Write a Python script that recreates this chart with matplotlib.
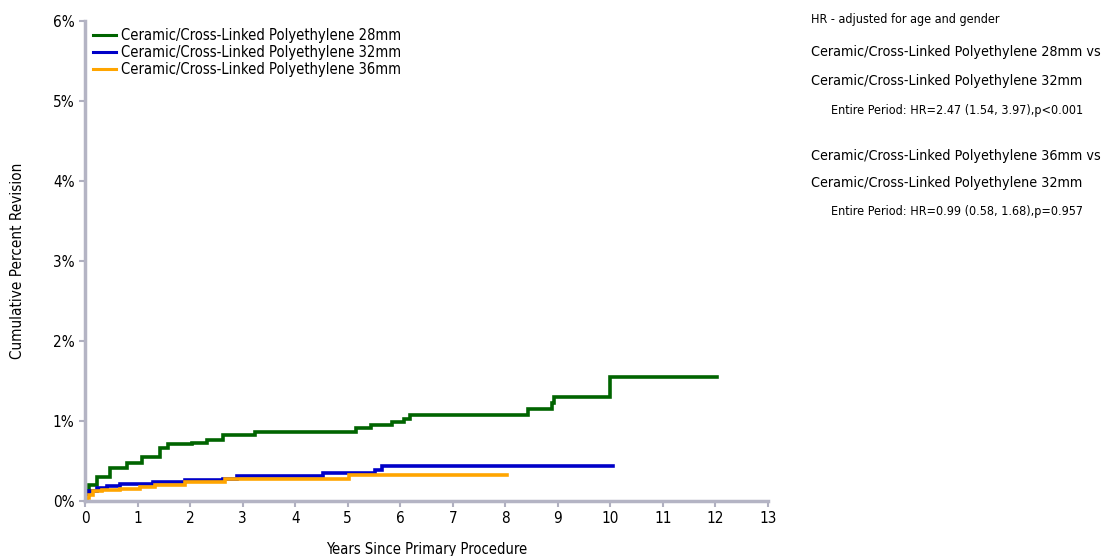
import matplotlib
matplotlib.use("Agg")
import matplotlib.pyplot as plt
from matplotlib.ticker import FuncFormatter

plt.rcParams['font.family'] = ['DejaVu Sans']
plt.rcParams['font.stretch'] = 'condensed'

# Cumulative percent revision (step curves)
years_28 = [0, 0.03, 0.08, 0.22, 0.48, 0.79, 1.08, 1.43, 1.58, 2.03, 2.32, 2.63, 3.24,
            5.16, 5.44, 5.84, 6.08, 6.19, 8.43, 8.89, 8.93, 9.99, 10.0, 12.03]
pct_28 = [0, 0.12, 0.2, 0.30, 0.41, 0.47, 0.55, 0.66, 0.71, 0.73, 0.76, 0.82, 0.86,
          0.91, 0.95, 0.99, 1.03, 1.08, 1.15, 1.22, 1.30, 1.42, 1.55, 1.55]

years_32 = [0, 0.03, 0.08, 0.22, 0.41, 0.67, 1.3, 1.9, 2.63, 2.89, 4.53, 5.52, 5.65, 10.05]
pct_32 = [0, 0.08, 0.12, 0.16, 0.19, 0.21, 0.24, 0.26, 0.28, 0.31, 0.35, 0.39, 0.44, 0.44]

years_36 = [0, 0.03, 0.08, 0.16, 0.32, 0.67, 1.05, 1.33, 1.9, 2.67, 5.03, 8.04]
pct_36 = [0, 0.04, 0.075, 0.12, 0.14, 0.15, 0.18, 0.20, 0.24, 0.27, 0.325, 0.325]

labels = ['Ceramic/Cross-Linked Polyethylene 28mm',
          'Ceramic/Cross-Linked Polyethylene 32mm',
          'Ceramic/Cross-Linked Polyethylene 36mm']
colors = ['#006400', '#0000c8', '#ffa500']

fig = plt.figure(figsize=(11.06, 5.56), dpi=100)
ax = fig.add_axes([0.0769, 0.0989, 0.6175, 0.8633])

for x, y, lab, c in zip([years_28, years_32, years_36], [pct_28, pct_32, pct_36], labels, colors):
    ax.step(x, y, where='post', color=c, lw=2.6, label=lab, solid_joinstyle='miter')

ax.set_xlim(0, 13)
ax.set_ylim(0, 6)
ax.set_xticks(range(0, 14))
ax.set_yticks(range(0, 7))
ax.yaxis.set_major_formatter(FuncFormatter(lambda v, p: f'{int(v)}%'))
ax.tick_params(labelsize=11, color='#b0b0c0', length=4, width=1.5)

for s in ['top', 'right']:
    ax.spines[s].set_visible(False)
for s in ['left', 'bottom']:
    ax.spines[s].set_color('#b4b4c4')
    ax.spines[s].set_linewidth(2.5)

ax.set_xlabel('Years Since Primary Procedure', fontsize=10.5, labelpad=11)
ax.set_ylabel('Cumulative Percent Revision', fontsize=11, labelpad=20)

leg = ax.legend(loc='upper left', bbox_to_anchor=(-0.004, 1.006), frameon=False, fontsize=10.5,
                handlelength=1.6, handletextpad=0.35, labelspacing=0.12, borderaxespad=0.3)
for h in leg.legend_handles:
    h.set_linewidth(2.2)

# Hazard ratio text panel
fig.text(0.733, 0.965, 'HR - adjusted for age and gender', fontsize=9, va='center')
fig.text(0.733, 0.906, 'Ceramic/Cross-Linked Polyethylene 28mm vs', fontsize=10.3, va='center')
fig.text(0.733, 0.854, 'Ceramic/Cross-Linked Polyethylene 32mm', fontsize=10.3, va='center')
fig.text(0.751, 0.802, 'Entire Period: HR=2.47 (1.54, 3.97),p<0.001', fontsize=9, va='center')
fig.text(0.733, 0.719, 'Ceramic/Cross-Linked Polyethylene 36mm vs', fontsize=10.3, va='center')
fig.text(0.733, 0.671, 'Ceramic/Cross-Linked Polyethylene 32mm', fontsize=10.3, va='center')
fig.text(0.751, 0.619, 'Entire Period: HR=0.99 (0.58, 1.68),p=0.957', fontsize=9, va='center')

fig.savefig('out.png', dpi=100)
